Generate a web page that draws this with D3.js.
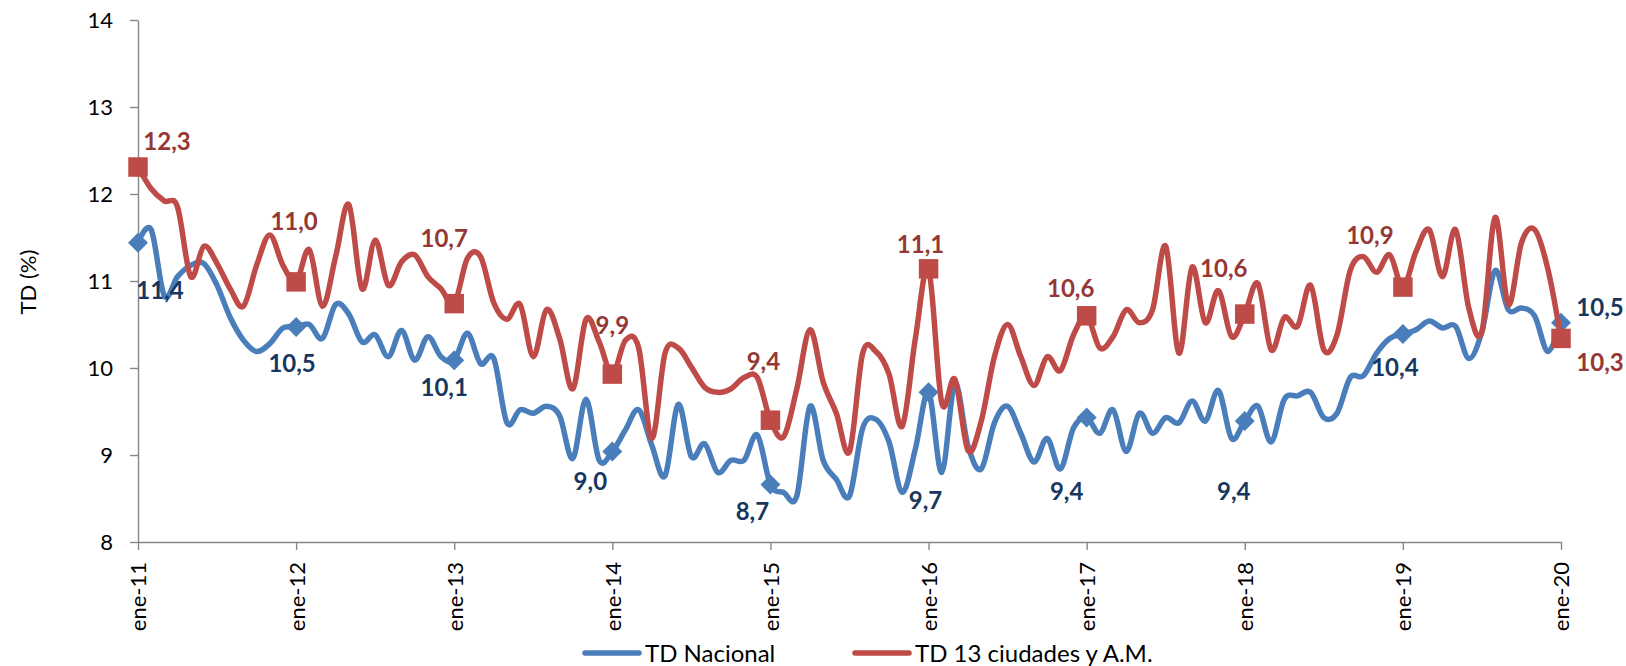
<!DOCTYPE html>
<html>
<head>
<meta charset="utf-8">
<script src="https://cdn.jsdelivr.net/npm/d3@7"></script>
<style>
  body { margin: 0; background: #fff; }
  svg { display: block; }
  text { font-family: Lato, "Open Sans", "DejaVu Sans", sans-serif; }
</style>
</head>
<body>
<svg id="chart" width="1626" height="666"></svg>
<script>
// ---------- DATA ----------
const monthNames = ["ene","feb","mar","abr","may","jun","jul","ago","sep","oct","nov","dic"];
const years = ["11","12","13","14","15","16","17","18","19","20"];
// categories: ene-11 ... ene-20 (109 months)
const categories = [];
years.forEach((yy, k) => monthNames.forEach(m => { if (k < 9 || m === "ene") categories.push(m + "-" + yy); }));

const tickLabels = ["ene-11","ene-12","ene-13","ene-14","ene-15","ene-16","ene-17","ene-18","ene-19","ene-20"];

const tdNacional = [
  11.44, 11.59, 10.83, 11.05, 11.18, 11.20, 10.95, 10.58, 10.32, 10.19, 10.28, 10.46,
  10.47, 10.50, 10.34, 10.73, 10.62, 10.30, 10.38, 10.13, 10.43, 10.09, 10.36, 10.13,
  10.09, 10.40, 10.05, 10.11,  9.37,  9.52,  9.48,  9.56,  9.45,  8.96,  9.64,  8.94,
   9.04,  9.29,  9.52,  9.11,  8.76,  9.58,  8.98,  9.13,  8.80,  8.94,  8.94,  9.23,
   8.66,  8.57,  8.53,  9.56,  8.94,  8.72,  8.53,  9.31,  9.41,  9.15,  8.57,  9.07,
   9.72,  8.80,  9.82,  9.10,  8.84,  9.37,  9.56,  9.25,  8.92,  9.19,  8.84,  9.31,
   9.43,  9.25,  9.52,  9.04,  9.48,  9.25,  9.43,  9.37,  9.62,  9.39,  9.74,  9.19,
   9.39,  9.56,  9.15,  9.64,  9.68,  9.72,  9.43,  9.48,  9.89,  9.91, 10.17, 10.34,
  10.39, 10.44, 10.54, 10.46, 10.48, 10.11, 10.42, 11.12, 10.67, 10.69, 10.60, 10.19,
  10.52
];

const td13Ciudades = [
  12.31, 12.06, 11.92, 11.85, 11.05, 11.40, 11.20, 10.91, 10.71, 11.18, 11.53, 11.18,
  10.99, 11.36, 10.71, 11.28, 11.88, 10.91, 11.47, 10.95, 11.22, 11.30, 11.05, 10.91,
  10.74, 11.26, 11.28, 10.75, 10.56, 10.73, 10.13, 10.67, 10.34,  9.76, 10.56, 10.30,
   9.93, 10.32, 10.23,  9.19, 10.17, 10.23, 10.01,  9.78,  9.72,  9.76,  9.89,  9.89,
   9.40,  9.21,  9.76, 10.44,  9.84,  9.48,  9.04, 10.17, 10.19,  9.93,  9.33, 10.34,
  11.14,  9.60,  9.87,  9.05,  9.39, 10.13, 10.50, 10.13,  9.80, 10.13,  9.97, 10.38,
  10.60, 10.23, 10.36, 10.67, 10.52, 10.67, 11.40, 10.17, 11.16, 10.52, 10.89, 10.36,
  10.62, 10.97, 10.21, 10.58, 10.48, 10.95, 10.21, 10.38, 11.12, 11.28, 11.10, 11.30,
  10.93, 11.34, 11.59, 11.05, 11.59, 10.69, 10.42, 11.73, 10.73, 11.44, 11.59, 11.14,
  10.34
];

const yTicks = [8, 9, 10, 11, 12, 13, 14];
const seriesNames = ["TD Nacional", "TD 13 ciudades y A.M."];

// ---------- LAYOUT / STYLE ----------
const colors = { nac: "#4A7EBB", ciu: "#BE4B48", nacLabel: "#17375E", ciuLabel: "#953735", axis: "#868686" };
// label offsets (px) relative to each January marker
const nacLabelOffsets = [[22,48],[-4,36],[-10,27],[-22,30],[-18,27],[-3,108],[-20,74],[-11,70],[-8,33],[39,-15]];
const ciuLabelOffsets = [[29,-26],[-2,-61],[-10,-65],[0,-49],[-7,-59],[-8,-24],[-16,-27],[-21,-46],[-33,-52],[39,24]];

const svg = d3.select("#chart");
const x = d3.scaleLinear().domain([0, categories.length - 1]).range([138, 1561]);
const y = d3.scaleLinear().domain([8, 14]).range([542, 20]);
const janIdx = categories.map((c, i) => c.startsWith("ene") ? i : -1).filter(i => i >= 0);

// Y axis
const yAxis = svg.append("g").attr("transform", "translate(138,0)")
  .call(d3.axisLeft(y).tickValues(yTicks).tickSize(8).tickSizeOuter(0).tickPadding(17).tickFormat(d3.format("d")));
yAxis.select(".domain").attr("stroke", colors.axis).attr("stroke-width", 1.4);
yAxis.selectAll(".tick line").attr("stroke", colors.axis).attr("stroke-width", 1.4);
yAxis.selectAll("text").attr("font-size", 22).attr("fill", "#000").attr("dy", "0.35em");

// X axis
const xAxis = svg.append("g").attr("transform", "translate(0,542)")
  .call(d3.axisBottom(x).tickValues(janIdx).tickSize(8).tickSizeOuter(0)
    .tickFormat((d, k) => tickLabels[k]));
xAxis.select(".domain").attr("stroke", colors.axis).attr("stroke-width", 1.4);
xAxis.selectAll(".tick line").attr("stroke", colors.axis).attr("stroke-width", 1.4);
xAxis.selectAll("text")
  .attr("font-size", 22).attr("fill", "#000")
  .attr("transform", "rotate(-90)")
  .attr("text-anchor", "end")
  .attr("x", -20).attr("y", 0).attr("dy", "0.36em");

// Y title
svg.append("text").attr("transform", "translate(36,282) rotate(-90)")
  .attr("text-anchor", "middle").attr("font-size", 22).attr("fill", "#000").text("TD (%)");

// Lines
const line = d3.line().x((d, i) => x(i)).y(d => y(d)).curve(d3.curveCardinal.tension(0));

function drawSeries(values, color, marker, labelColor, offsets) {
  svg.append("path").datum(values).attr("d", line)
    .attr("fill", "none").attr("stroke", color).attr("stroke-width", 5.5)
    .attr("stroke-linejoin", "round").attr("stroke-linecap", "round");
  const pts = janIdx.map(i => ({ i, v: values[i] }));
  if (marker === "diamond") {
    svg.selectAll(null).data(pts).enter().append("path")
      .attr("d", d3.symbol(d3.symbolSquare, 200)())
      .attr("transform", d => `translate(${x(d.i)},${y(d.v)}) rotate(45)`)
      .attr("fill", color);
  } else {
    svg.selectAll(null).data(pts).enter().append("path")
      .attr("d", d3.symbol(d3.symbolSquare, 380)())
      .attr("transform", d => `translate(${x(d.i)},${y(d.v)})`)
      .attr("fill", color);
  }
  svg.selectAll(null).data(pts).enter().append("text")
    .attr("x", (d, k) => x(d.i) + offsets[k][0])
    .attr("y", (d, k) => y(d.v) + offsets[k][1])
    .attr("dy", "0.36em").attr("text-anchor", "middle")
    .attr("font-size", 24).attr("font-weight", "bold").attr("fill", labelColor)
    .text(d => d3.format(".1f")(d.v).replace(".", ","));
}
drawSeries(tdNacional, colors.nac, "diamond", colors.nacLabel, nacLabelOffsets);
drawSeries(td13Ciudades, colors.ciu, "square", colors.ciuLabel, ciuLabelOffsets);

// Legend
const legend = [
  { name: seriesNames[0], color: colors.nac, x0: 585 },
  { name: seriesNames[1], color: colors.ciu, x0: 855 }
];
legend.forEach(l => {
  svg.append("line").attr("x1", l.x0).attr("x2", l.x0 + 54).attr("y1", 653).attr("y2", 653)
    .attr("stroke", l.color).attr("stroke-width", 5.5).attr("stroke-linecap", "round");
  svg.append("text").attr("x", l.x0 + 60).attr("y", 662).attr("font-size", 24).attr("fill", "#000").text(l.name);
});
</script>
</body>
</html>
